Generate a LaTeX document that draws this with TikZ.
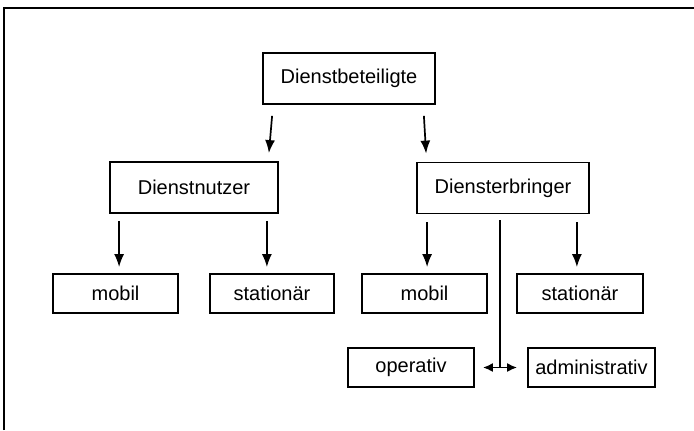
\documentclass[tikz,border=0pt]{standalone}
\usepackage{fontspec}
\setmainfont{Liberation Sans}
\usetikzlibrary{arrows.meta,calc}

\begin{document}
\begin{tikzpicture}[x=1bp,y=-1bp,
  box/.style={draw=black,line width=1.8bp,minimum height=39bp,inner sep=0pt,
              font=\fontsize{20bp}{23bp}\selectfont},
  bigbox/.style={box,minimum height=51bp},
  arr/.style={line width=1.7bp,-{Latex[length=13bp,width=10bp]}},
  dbl/.style={line width=1.7bp,{Latex[length=10bp,width=9bp]}-{Latex[length=10bp,width=9bp]}},
  plain/.style={line width=1.6bp}]
\useasboundingbox (0,0) rectangle (694,430);

% frame (top and left edges)
\draw[line width=1.4bp] (4,430) -- (4,8) -- (694,8);

% hierarchy boxes
\node[bigbox,minimum width=172bp] (top) at (349,78.5) {Dienstbeteiligte};
\node[bigbox,minimum width=168bp] (nutzer) at (194,187.5) {Dienstnutzer};
\node[bigbox,minimum width=172bp] (erbr) at (503,188) {Diensterbringer};

\node[box,minimum width=125bp] (lmob) at (115.5,293.5) {mobil};
\node[box,minimum width=124bp] (lsta) at (272,293.5) {stationär};
\node[box,minimum width=125bp] (rmob) at (424.5,293.5) {mobil};
\node[box,minimum width=126bp] (rsta) at (580,293.5) {stationär};

\node[box,minimum width=126bp] (oper) at (411,367.5) {operativ};
\node[box,minimum width=127bp] (admin) at (591.5,367.5) {administrativ};

% connectors from the top box
\draw[arr] ($(top.south west)+(10,11)$) -- ($(nutzer.north east)+(-10,-8)$);
\draw[arr] ($(top.south east)+(-12,11)$) -- ($(erbr.north west)+(10,-8)$);

% feet of the vertical connectors
\coordinate (n1) at ($(nutzer.south west)+(10,0)$);
\coordinate (n2) at ($(nutzer.south east)+(-12,0)$);
\coordinate (e1) at ($(erbr.south west)+(11,0)$);
\coordinate (e2) at ($(erbr.south east)+(-13,0)$);
\coordinate (e3) at ($(erbr.south)+(-3,0)$);

% user branch
\draw[arr,shorten >=6bp] ($(n1)+(0,7)$) -- (n1 |- lmob.north);
\draw[arr,shorten >=6bp] ($(n2)+(0,7)$) -- (n2 |- lsta.north);

% provider branch
\draw[arr,shorten >=6bp] ($(e1)+(0,8)$) -- (e1 |- rmob.north);
\draw[arr,shorten >=6bp] ($(e2)+(0,8)$) -- (e2 |- rsta.north);

% split towards operative / administrative
\coordinate (j) at (e3 |- oper.east);
\draw[plain] ($(e3)+(0,6)$) -- (j);
\draw[dbl] ($(oper.east)+(8,0)$) -- ($(admin.west)+(-10,0)$);
\end{tikzpicture}
\end{document}
